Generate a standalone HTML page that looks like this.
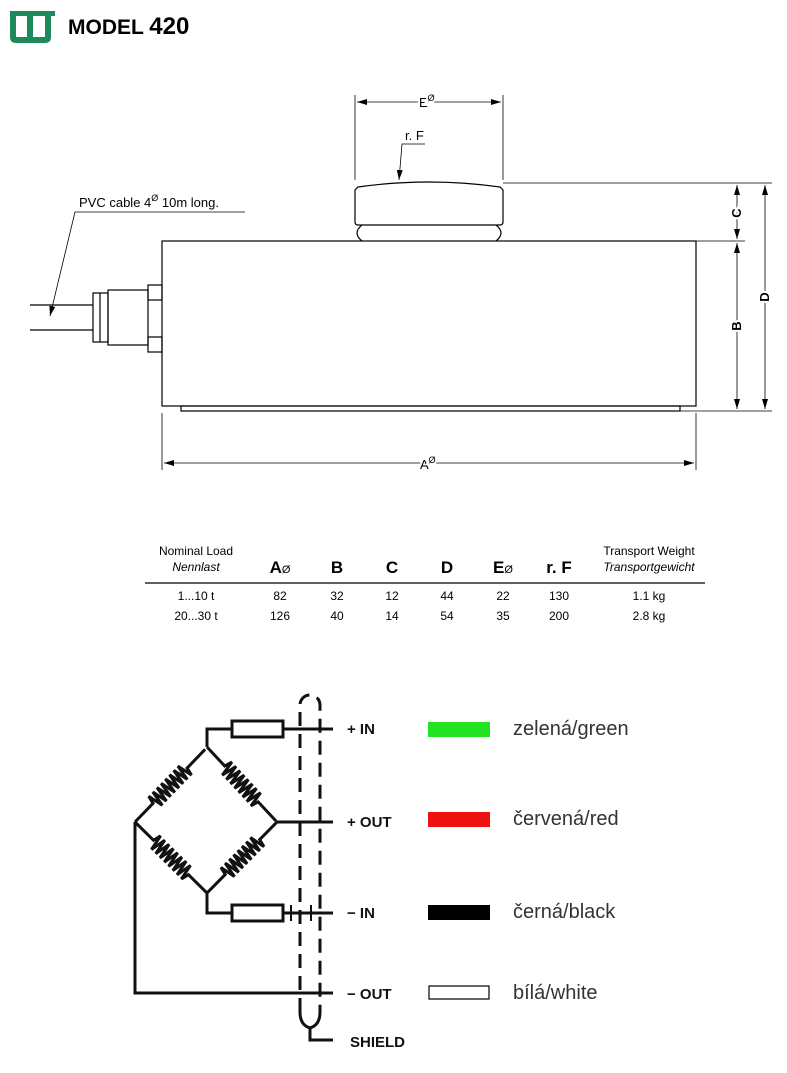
<!DOCTYPE html>
<html><head><meta charset="utf-8"><style>
body{margin:0;background:#fff;width:787px;height:1073px;overflow:hidden}
svg{display:block;font-family:"Liberation Sans",sans-serif}
</style></head><body>
<svg width="787" height="1073" viewBox="0 0 787 1073">
<defs>
<marker id="ar" viewBox="0 0 10 6" refX="10" refY="3" markerWidth="10" markerHeight="6" orient="auto-start-reverse" markerUnits="userSpaceOnUse"><path d="M0,0L10,3L0,6z" fill="#000"/></marker>
<path id="zz" d="M0,0 H26 L28,-8 L31,8 L34,-8 L37,8 L40,-8 L43,8 L46,-8 L49,8 L52,-8 L55,8 L58,-8 L61,8 L64,-8 L67,8 L70,-8 L73,8 L75,0 H101"/>
</defs>
<!-- logo -->
<path d="M10,11 H55 V16 H51 V37 Q51,43 45,43 H16 Q10,43 10,37 V16 Z" fill="#1e8a5c"/>
<path d="M16,16 H27 V37 H16 Z M33,16 H45 V37 H33 Z" fill="#fff"/>
<text x="68" y="34" font-size="21" font-weight="bold">MODEL <tspan font-size="24">420</tspan></text>
<!-- drawing -->
<g stroke="#000" fill="none" stroke-width="1.2">
<rect x="162" y="241" width="534" height="165"/>
<rect x="181" y="406" width="499" height="5"/>
<path d="M358,187 Q429,177 500,187 L503,190 V222 Q503,225 500,225 H358 Q355,225 355,222 V190Z"/>
<path d="M362,225 Q352,233 362,241 M496,225 Q506,233 496,241"/>
<rect x="148" y="285" width="14" height="15"/>
<rect x="148" y="337" width="14" height="15"/>
<rect x="108" y="290" width="40" height="55"/>
<rect x="93" y="293" width="15" height="49"/>
<line x1="100" y1="293" x2="100" y2="342"/>
<line x1="30" y1="305" x2="93" y2="305"/><line x1="30" y1="330" x2="93" y2="330"/>
</g>
<g stroke="#000" stroke-width="0.8" fill="none">
<line x1="355" y1="95" x2="355" y2="180"/><line x1="503" y1="95" x2="503" y2="180"/>
<line x1="357" y1="102" x2="501" y2="102" marker-start="url(#ar)" marker-end="url(#ar)"/>
<line x1="503" y1="183" x2="772" y2="183"/>
<line x1="696" y1="241" x2="745" y2="241"/>
<line x1="680" y1="411" x2="772" y2="411"/>
<line x1="737" y1="185" x2="737" y2="239" marker-start="url(#ar)" marker-end="url(#ar)"/>
<line x1="737" y1="243" x2="737" y2="409" marker-start="url(#ar)" marker-end="url(#ar)"/>
<line x1="765" y1="185" x2="765" y2="409" marker-start="url(#ar)" marker-end="url(#ar)"/>
<line x1="162" y1="413" x2="162" y2="470"/><line x1="696" y1="413" x2="696" y2="470"/>
<line x1="164" y1="463" x2="694" y2="463" marker-start="url(#ar)" marker-end="url(#ar)"/>
<path d="M425,144 H402 L399,180" marker-end="url(#ar)"/>
<path d="M245,212 H75 L50,316" marker-end="url(#ar)"/>
</g>
<g font-size="13" fill="#000">
<text x="419" y="107" stroke="#fff" stroke-width="4" paint-order="stroke">E<tspan font-size="9" dy="-6">Ø</tspan></text>
<text x="405" y="140">r. F</text>
<text x="79" y="207">PVC cable 4<tspan font-size="9" dy="-6">Ø</tspan><tspan dy="6"> 10m long.</tspan></text>
<text x="420" y="469" stroke="#fff" stroke-width="4" paint-order="stroke">A<tspan font-size="9" dy="-6">Ø</tspan></text>
<g font-weight="bold">
<text transform="translate(741,213) rotate(-90)" text-anchor="middle" stroke="#fff" stroke-width="4" paint-order="stroke">C</text>
<text transform="translate(741,326) rotate(-90)" text-anchor="middle" stroke="#fff" stroke-width="4" paint-order="stroke">B</text>
<text transform="translate(769,297) rotate(-90)" text-anchor="middle" stroke="#fff" stroke-width="4" paint-order="stroke">D</text>
</g>
</g>
<!-- table -->
<g font-size="12" text-anchor="middle">
<text x="196" y="555">Nominal Load</text>
<text x="196" y="571" font-style="italic">Nennlast</text>
<text x="649" y="555">Transport Weight</text>
<text x="649" y="571" font-style="italic">Transportgewicht</text>
<g font-size="17" font-weight="bold">
<text x="280" y="573">A<tspan font-size="11" font-weight="normal">Ø</tspan></text>
<text x="337" y="573">B</text><text x="392" y="573">C</text><text x="447" y="573">D</text>
<text x="503" y="573">E<tspan font-size="11" font-weight="normal">Ø</tspan></text>
<text x="559" y="573">r. F</text></g>
<text x="196" y="600">1...10 t</text><text x="280" y="600">82</text><text x="337" y="600">32</text><text x="392" y="600">12</text><text x="447" y="600">44</text><text x="503" y="600">22</text><text x="559" y="600">130</text><text x="649" y="600">1.1 kg</text>
<text x="196" y="620">20...30 t</text><text x="280" y="620">126</text><text x="337" y="620">40</text><text x="392" y="620">14</text><text x="447" y="620">54</text><text x="503" y="620">35</text><text x="559" y="620">200</text><text x="649" y="620">2.8 kg</text>
</g>
<line x1="145" y1="583" x2="705" y2="583" stroke="#000" stroke-width="1.2"/>
<!-- circuit -->
<g stroke="#111" stroke-width="3" fill="none">
<use href="#zz" transform="translate(135,822) rotate(-46)"/>
<use href="#zz" transform="translate(207,747) rotate(47)"/>
<use href="#zz" transform="translate(135,822) rotate(44.6)"/>
<use href="#zz" transform="translate(207,893) rotate(-45.4)"/>
<path d="M207,747 V729 H232 M283,729 H333"/>
<rect x="232" y="721" width="51" height="16"/>
<path d="M207,893 V913 H232 M283,913 H333"/>
<rect x="232" y="905" width="51" height="16"/>
<path d="M277,822 H333"/>
<path d="M135,822 V993 H333"/>
<path d="M300,1012 V705 A10,10 0 0 1 320,705 V1012" stroke-dasharray="14,8"/>
<path d="M300,1012 Q300,1025 310,1028 Q320,1025 320,1012 M310,1028 V1040 H333"/>
<path d="M291,905 V921 M311,905 V921" stroke-width="2"/>
</g>
<g font-size="15" font-weight="bold" fill="#111">
<text x="347" y="734">+ IN</text><text x="347" y="827">+ OUT</text>
<text x="347" y="918">− IN</text><text x="347" y="999">− OUT</text>
<text x="350" y="1047">SHIELD</text>
</g>
<rect x="428" y="722" width="62" height="15" fill="#22e222"/>
<rect x="428" y="812" width="62" height="15" fill="#ee1111"/>
<rect x="428" y="905" width="62" height="15" fill="#000"/>
<rect x="429" y="986" width="60" height="13" fill="#fff" stroke="#000" stroke-width="1.2"/>
<g font-size="20" fill="#333">
<text x="513" y="735">zelená/green</text>
<text x="513" y="825">červená/red</text>
<text x="513" y="918">černá/black</text>
<text x="513" y="999">bílá/white</text>
</g>
</svg>
</body></html>
